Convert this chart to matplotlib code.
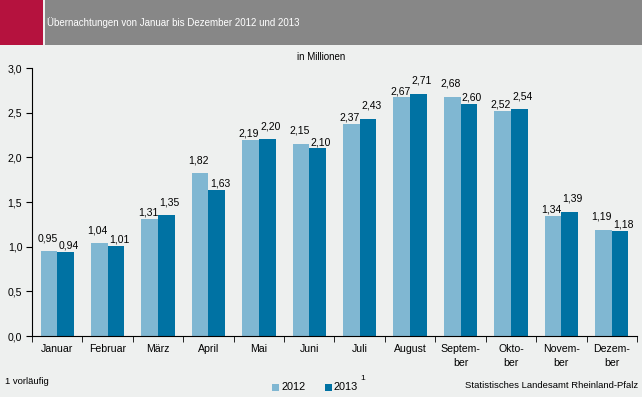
import matplotlib
matplotlib.use("Agg")
import matplotlib.pyplot as plt
import numpy as np
from matplotlib.patches import Rectangle

plt.rcParams['font.family'] = ['Liberation Sans', 'DejaVu Sans']

months = ["Januar", "Februar", "März", "April", "Mai", "Juni", "Juli", "August",
          "Septem-\nber", "Okto-\nber", "Novem-\nber", "Dezem-\nber"]
v2012 = [0.95, 1.04, 1.31, 1.82, 2.19, 2.15, 2.37, 2.67, 2.68, 2.52, 1.34, 1.19]
v2013 = [0.94, 1.01, 1.35, 1.63, 2.20, 2.10, 2.43, 2.71, 2.60, 2.54, 1.39, 1.18]
yticks = [0.0, 0.5, 1.0, 1.5, 2.0, 2.5, 3.0]

bg = "#eef0ef"
c_light = "#80b7d2"
c_dark = "#0072a3"

W, H = 642, 397
fig = plt.figure(figsize=(W/100, H/100), dpi=100, facecolor=bg)

# header
fig.patches.append(Rectangle((0, 1-45/H), 43/W, 45/H, transform=fig.transFigure,
                             facecolor="#b5123e", edgecolor="none"))
fig.patches.append(Rectangle((45/W, 1-45/H), 1-45/W, 45/H, transform=fig.transFigure,
                             facecolor="#878787", edgecolor="none"))
fig.text(47/W, 1-23/H, "Übernachtungen von Januar bis Dezember 2012 und 2013",
         color="white", fontsize=7.0, va="center", ha="left")
fig.text(321/W, 1-57/H, "in Millionen", fontsize=7, ha="center", va="center")

ax = fig.add_axes([32/W, 1-336/H, 605/W, (336-68)/H])
ax.set_facecolor(bg)
x = np.arange(len(months))
bw = 0.33
ax.bar(x - bw/2, v2012, bw, color=c_light)
ax.bar(x + bw/2, v2013, bw, color=c_dark)

def fmt(v):
    return f"{v:.2f}".replace(".", ",")

hi, lo = 5.8, 1.0
for xi, a, b in zip(x, v2012, v2013):
    ax.annotate(fmt(a), (xi - bw/2, a), xytext=(-1.1, hi if a >= b else lo),
                textcoords="offset points", ha="center", va="bottom", fontsize=7.5)
    ax.annotate(fmt(b), (xi + bw/2, b), xytext=(2.2, hi if b > a else lo),
                textcoords="offset points", ha="center", va="bottom", fontsize=7.5)

ax.set_xlim(-0.5, len(months) - 0.5)
ax.set_ylim(0, 3.0)
ax.set_yticks(yticks)
ax.set_yticklabels([f"{t:.1f}".replace(".", ",") for t in yticks], fontsize=7.6)
ax.set_xticks(x)
ax.set_xticklabels(months, fontsize=7.6, linespacing=1.4)
ax.tick_params(axis="x", length=0, pad=6)
ax.set_xticks(np.arange(-0.5, len(months) - 0.4, 1), minor=True)
ax.tick_params(axis="x", which="minor", length=4, direction="out")
ax.tick_params(axis="y", length=4, direction="out", pad=3)
for s in ["top", "right"]:
    ax.spines[s].set_visible(False)
ax.spines["left"].set_linewidth(0.8)
ax.spines["bottom"].set_linewidth(0.8)

# footer
fig.text(5/W, 1-381/H, "1 vorläufig", fontsize=6.8, ha="left", va="center")
fig.text(638/W, 1-385/H, "Statistisches Landesamt Rheinland-Pfalz", fontsize=6.8,
         ha="right", va="center")
fig.patches.append(Rectangle((272/W, 1-391/H), 7/W, 7/H, transform=fig.transFigure,
                             facecolor=c_light, edgecolor="none"))
fig.text(281/W, 1-387/H, "2012", fontsize=7.8, ha="left", va="center")
fig.patches.append(Rectangle((325/W, 1-391/H), 7/W, 7/H, transform=fig.transFigure,
                             facecolor=c_dark, edgecolor="none"))
fig.text(334/W, 1-387/H, "2013", fontsize=7.8, ha="left", va="center")
fig.text(360/W, 1-378/H, "1", fontsize=6, ha="left", va="center")

fig.savefig("out.png", dpi=100, facecolor=bg)
